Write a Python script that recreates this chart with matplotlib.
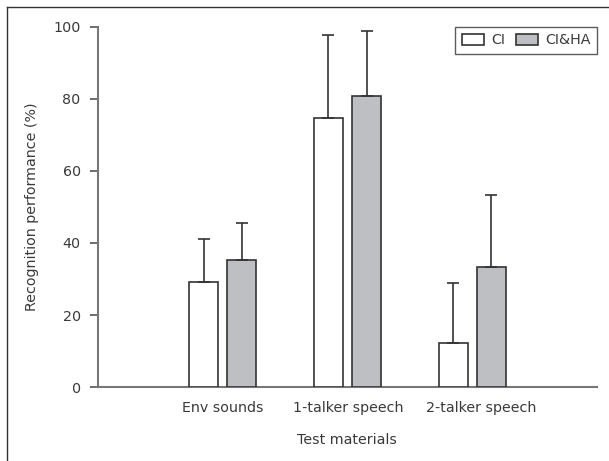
import matplotlib
matplotlib.use('Agg')
import matplotlib.pyplot as plt
from matplotlib.lines import Line2D
import numpy as np

# Data
categories = ['Env sounds', '1-talker speech', '2-talker speech']
ci_mean = [29.3, 74.8, 12.2]
ci_sd = [11.7, 23.1, 16.8]
ciha_mean = [35.3, 80.9, 33.4]
ciha_sd = [10.2, 18.1, 19.8]

plt.rcParams['font.family'] = ['DejaVu Sans']
text_col = '#3a3a3a'
fs = 10.3

fig = plt.figure(figsize=(6.09, 4.61), dpi=100)
ax = fig.add_axes([0.161, 0.1605, 0.819, 0.781])

x = np.arange(len(categories))
w = 0.233
off = 0.153

ax.bar(x - off, ci_mean, w, color='white', edgecolor='#333333', linewidth=1.2,
       yerr=[np.zeros(3), ci_sd], capsize=4.3,
       error_kw=dict(ecolor='#333333', elinewidth=1.2, capthick=1.2), label='CI', zorder=3)
ax.bar(x + off, ciha_mean, w, color='#bebfc3', edgecolor='#333333', linewidth=1.2,
       yerr=[np.zeros(3), ciha_sd], capsize=4.3,
       error_kw=dict(ecolor='#333333', elinewidth=1.2, capthick=1.2), label='CI&HA', zorder=3)

ax.set_xlim(-1, 3)
ax.set_ylim(0, 100)
ax.set_yticks([0, 20, 40, 60, 80, 100])
# tick labels as placed in the original figure
ax.set_xticks([0, 1.01, 2.07])
ax.set_xticklabels(categories)
ax.tick_params(axis='x', length=0, pad=10, labelsize=fs, labelcolor=text_col)
ax.tick_params(axis='y', length=6, width=1.2, color='#555555', pad=6.5,
               labelsize=fs, labelcolor=text_col)

for s in ['top', 'right']:
    ax.spines[s].set_visible(False)
for s in ['left', 'bottom']:
    ax.spines[s].set_color('#777777')
    ax.spines[s].set_linewidth(1.5)

ax.set_xlabel('Test materials', fontsize=fs, color=text_col, labelpad=13)
ax.set_ylabel('Recognition performance (%)', fontsize=fs, color=text_col, labelpad=10)

leg = ax.legend(loc='upper right', ncol=2, frameon=True, fancybox=False,
                borderaxespad=0, handlelength=1.6, handleheight=0.9,
                handletextpad=0.45, columnspacing=0.75, fontsize=fs,
                borderpad=0.45)
leg.get_frame().set_edgecolor('#333333')
leg.get_frame().set_linewidth(1.0)
for t in leg.get_texts():
    t.set_color(text_col)

# outer frame lines (top and left)
fig.add_artist(Line2D([0.0115, 0.0115], [0, 0.985], transform=fig.transFigure,
                      color='#333333', linewidth=1.0))
fig.add_artist(Line2D([0.0115, 1.0], [0.985, 0.985], transform=fig.transFigure,
                      color='#333333', linewidth=1.0))

fig.savefig('out.png', dpi=100)
